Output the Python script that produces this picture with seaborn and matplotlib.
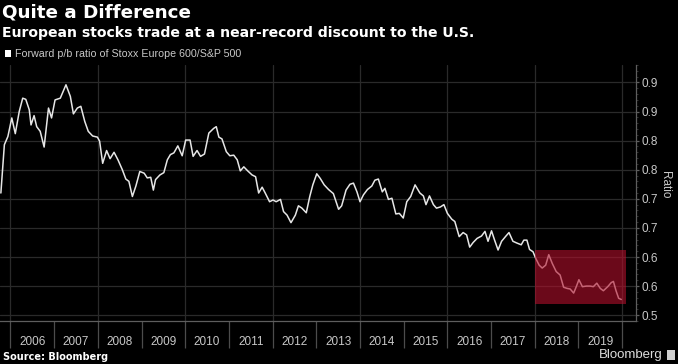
import matplotlib
matplotlib.use("Agg")
import matplotlib.pyplot as plt
from matplotlib.patches import Patch, Rectangle
from matplotlib.ticker import FixedLocator, FixedFormatter, MultipleLocator
import pandas as pd
import seaborn as sns

# =====================
# Data
# =====================
years = [
    2005.78, 2005.86, 2005.94, 2006.03, 2006.11, 2006.20, 2006.28, 2006.35, 2006.43, 2006.47,
    2006.54, 2006.60, 2006.68, 2006.77, 2006.87, 2006.94, 2007.02, 2007.14, 2007.27, 2007.37,
    2007.44, 2007.53, 2007.61, 2007.70, 2007.78, 2007.88, 2007.99, 2008.04, 2008.11, 2008.20,
    2008.28, 2008.37, 2008.46, 2008.56, 2008.64, 2008.71, 2008.79, 2008.87, 2008.96, 2009.06,
    2009.13, 2009.21, 2009.27, 2009.32, 2009.42, 2009.51, 2009.59, 2009.66, 2009.74, 2009.83,
    2009.93, 2010.01, 2010.11, 2010.18, 2010.27, 2010.35, 2010.44, 2010.54, 2010.65, 2010.71,
    2010.77, 2010.84, 2010.94, 2011.02, 2011.11, 2011.19, 2011.26, 2011.34, 2011.43, 2011.53,
    2011.61, 2011.68, 2011.76, 2011.83, 2011.93, 2012.01, 2012.08, 2012.18, 2012.25, 2012.33,
    2012.42, 2012.52, 2012.59, 2012.67, 2012.77, 2012.85, 2012.92, 2013.01, 2013.09, 2013.18,
    2013.28, 2013.39, 2013.51, 2013.58, 2013.68, 2013.77, 2013.85, 2013.93, 2014.00, 2014.08,
    2014.17, 2014.27, 2014.34, 2014.42, 2014.51, 2014.57, 2014.65, 2014.73, 2014.82, 2014.90,
    2014.99, 2015.07, 2015.16, 2015.26, 2015.37, 2015.45, 2015.51, 2015.59, 2015.68, 2015.75,
    2015.84, 2015.92, 2016.00, 2016.10, 2016.17, 2016.27, 2016.36, 2016.44, 2016.51, 2016.59,
    2016.68, 2016.78, 2016.86, 2016.93, 2017.01, 2017.08, 2017.16, 2017.24, 2017.34, 2017.41,
    2017.50, 2017.59, 2017.69, 2017.75, 2017.82, 2017.88, 2017.96, 2018.02, 2018.10, 2018.17,
    2018.25, 2018.32, 2018.40, 2018.49, 2018.58, 2018.66, 2018.74, 2018.81, 2018.89, 2018.95,
    2019.01, 2019.09, 2019.18, 2019.27, 2019.34, 2019.42, 2019.50, 2019.57, 2019.67, 2019.75,
    2019.80, 2019.86, 2019.92, 2019.98,
]
ratio = [
    0.710, 0.793, 0.807, 0.839, 0.812, 0.850, 0.873, 0.871, 0.853, 0.827,
    0.843, 0.824, 0.816, 0.789, 0.856, 0.839, 0.870, 0.873, 0.896, 0.876,
    0.846, 0.856, 0.859, 0.833, 0.816, 0.808, 0.806, 0.799, 0.761, 0.783,
    0.769, 0.780, 0.767, 0.750, 0.734, 0.730, 0.704, 0.722, 0.747, 0.744,
    0.736, 0.737, 0.715, 0.733, 0.741, 0.745, 0.767, 0.776, 0.779, 0.791,
    0.774, 0.801, 0.801, 0.773, 0.783, 0.773, 0.777, 0.813, 0.821, 0.824,
    0.806, 0.803, 0.781, 0.774, 0.775, 0.767, 0.748, 0.755, 0.748, 0.741,
    0.738, 0.710, 0.720, 0.710, 0.695, 0.698, 0.695, 0.699, 0.678, 0.672,
    0.659, 0.672, 0.688, 0.684, 0.676, 0.704, 0.724, 0.743, 0.735, 0.724,
    0.716, 0.709, 0.682, 0.688, 0.715, 0.725, 0.727, 0.712, 0.695, 0.707,
    0.716, 0.722, 0.732, 0.734, 0.712, 0.718, 0.699, 0.701, 0.674, 0.675,
    0.667, 0.695, 0.704, 0.724, 0.710, 0.705, 0.690, 0.705, 0.690, 0.684,
    0.686, 0.690, 0.675, 0.665, 0.661, 0.635, 0.642, 0.638, 0.617, 0.625,
    0.632, 0.636, 0.644, 0.627, 0.645, 0.629, 0.612, 0.627, 0.636, 0.642,
    0.627, 0.624, 0.621, 0.629, 0.629, 0.613, 0.609, 0.598, 0.586, 0.581,
    0.586, 0.604, 0.589, 0.575, 0.569, 0.548, 0.546, 0.545, 0.538, 0.549,
    0.561, 0.549, 0.550, 0.550, 0.549, 0.555, 0.546, 0.542, 0.549, 0.556,
    0.558, 0.542, 0.529, 0.527,
]

year_labels = [str(y) for y in range(2006, 2020)]
y_ticks = [0.50, 0.55, 0.60, 0.65, 0.70, 0.75, 0.80, 0.85, 0.90]
y_tick_labels = ["0.5", "0.6", "0.6", "0.7", "0.7", "0.8", "0.8", "0.9", "0.9"]

# highlighted window (start year, end year, low, high)
box_x = (2018.0, 2020.08)
box_y = (0.519, 0.612)

df = pd.DataFrame({"Year": years, "Ratio": ratio})

# =====================
# Styling
# =====================
sns.set_theme(style="dark", rc={
    "figure.facecolor": "black",
    "axes.facecolor": "black",
    "savefig.facecolor": "black",
})
plt.rcParams["font.family"] = ["DejaVu Sans"]

grid_c = "#2a2a2a"
axis_c = "#5e5e5e"
text_c = "#c8c8c8"
narrow = ["Liberation Sans", "DejaVu Sans"]

fig = plt.figure(figsize=(6.78, 3.64), dpi=100)
ax = fig.add_axes([0, 1 - 321 / 364, 635.7 / 678, 256 / 364])

# gridlines
for yv in y_ticks:
    ax.axhline(yv, color=grid_c, lw=0.9, zorder=0)
for yr in range(2006, 2021, 2):
    ax.axvline(yr, color=grid_c, lw=0.9, zorder=0)

sns.lineplot(data=df, x="Year", y="Ratio", ax=ax, color="#e6e6e6",
             lw=1.1, legend=False, zorder=3)

ax.add_patch(Rectangle((box_x[0], box_y[0]), box_x[1] - box_x[0],
                       box_y[1] - box_y[0], facecolor="#b3102c",
                       alpha=0.6, edgecolor="none", zorder=4))

ax.set_xlim(2005.76, 2020.31)
ax.set_ylim(0.490, 0.930)
ax.grid(False)

# x axis: long separators at year boundaries, labels in between
ax.xaxis.set_major_locator(FixedLocator(list(range(2006, 2021))))
ax.xaxis.set_major_formatter(FixedFormatter([""] * 15))
ax.xaxis.set_minor_locator(FixedLocator([y + 0.5 for y in range(2006, 2020)]))
ax.xaxis.set_minor_formatter(FixedFormatter(year_labels))
ax.tick_params(axis="x", which="major", length=19.5, width=0.9,
               color="#4c4c4c", direction="out", bottom=True)
ax.tick_params(axis="x", which="minor", length=0, pad=11,
               labelsize=8.5, labelcolor=text_c, bottom=True)
for t in ax.xaxis.get_minorticklabels():
    t.set_fontfamily(narrow)

# y axis on the right
ax.yaxis.tick_right()
ax.yaxis.set_major_locator(FixedLocator(y_ticks))
ax.yaxis.set_major_formatter(FixedFormatter(y_tick_labels))
ax.yaxis.set_minor_locator(MultipleLocator(0.01))
ax.tick_params(axis="y", which="major", length=2.5, width=0.9, color=axis_c,
               pad=1.5, labelsize=8.5, labelcolor=text_c, right=True, left=False)
ax.tick_params(axis="y", which="minor", length=1.2, width=0.6, color="#3a3a3a",
               right=True, left=False)
for t in ax.yaxis.get_majorticklabels():
    t.set_fontfamily(narrow)
ax.set_xlabel("")
ax.set_ylabel("")

for side in ["left", "top"]:
    ax.spines[side].set_visible(False)
for side in ["right", "bottom"]:
    ax.spines[side].set_visible(True)
    ax.spines[side].set_color(axis_c)
    ax.spines[side].set_linewidth(0.9)

fig.text(665 / 678, 1 - 185 / 364, "Ratio", rotation=270, ha="center",
         va="center", color=text_c, fontsize=8.5, family=narrow)

# titles
fig.text(2 / 678, 1 - 13 / 364, "Quite a Difference", ha="left", va="center",
         color="white", fontsize=13.2, fontweight="bold")
fig.text(2 / 678, 1 - 32.5 / 364,
         "European stocks trade at a near-record discount to the U.S.",
         ha="left", va="center", color="white", fontsize=10.1, fontweight="bold")

# legend
leg = fig.legend(handles=[Patch(facecolor="white", edgecolor="none")],
                 labels=["Forward p/b ratio of Stoxx Europe 600/S&P 500"],
                 loc="center left", bbox_to_anchor=(4.5 / 678, 1 - 54 / 364),
                 frameon=False, handlelength=0.6, handleheight=0.6,
                 handletextpad=0.4, borderaxespad=0, borderpad=0,
                 prop={"family": narrow, "size": 7.7})
for t in leg.get_texts():
    t.set_color(text_c)

# footer
fig.text(3 / 678, 1 - 357.5 / 364, "Source: Bloomberg", ha="left", va="center",
         color="white", fontsize=7, fontweight="bold")
fig.text(663 / 678, 1 - 355 / 364, "Bloomberg", ha="right", va="center",
         color="#dddddd", fontsize=9.5, family=narrow)
fig.patches.append(Rectangle((667 / 678, 1 - 360 / 364), 8 / 678, 10 / 364,
                             transform=fig.transFigure, facecolor="#cfcfcf",
                             edgecolor="none"))

fig.savefig("out.png", dpi=100, facecolor="black")
